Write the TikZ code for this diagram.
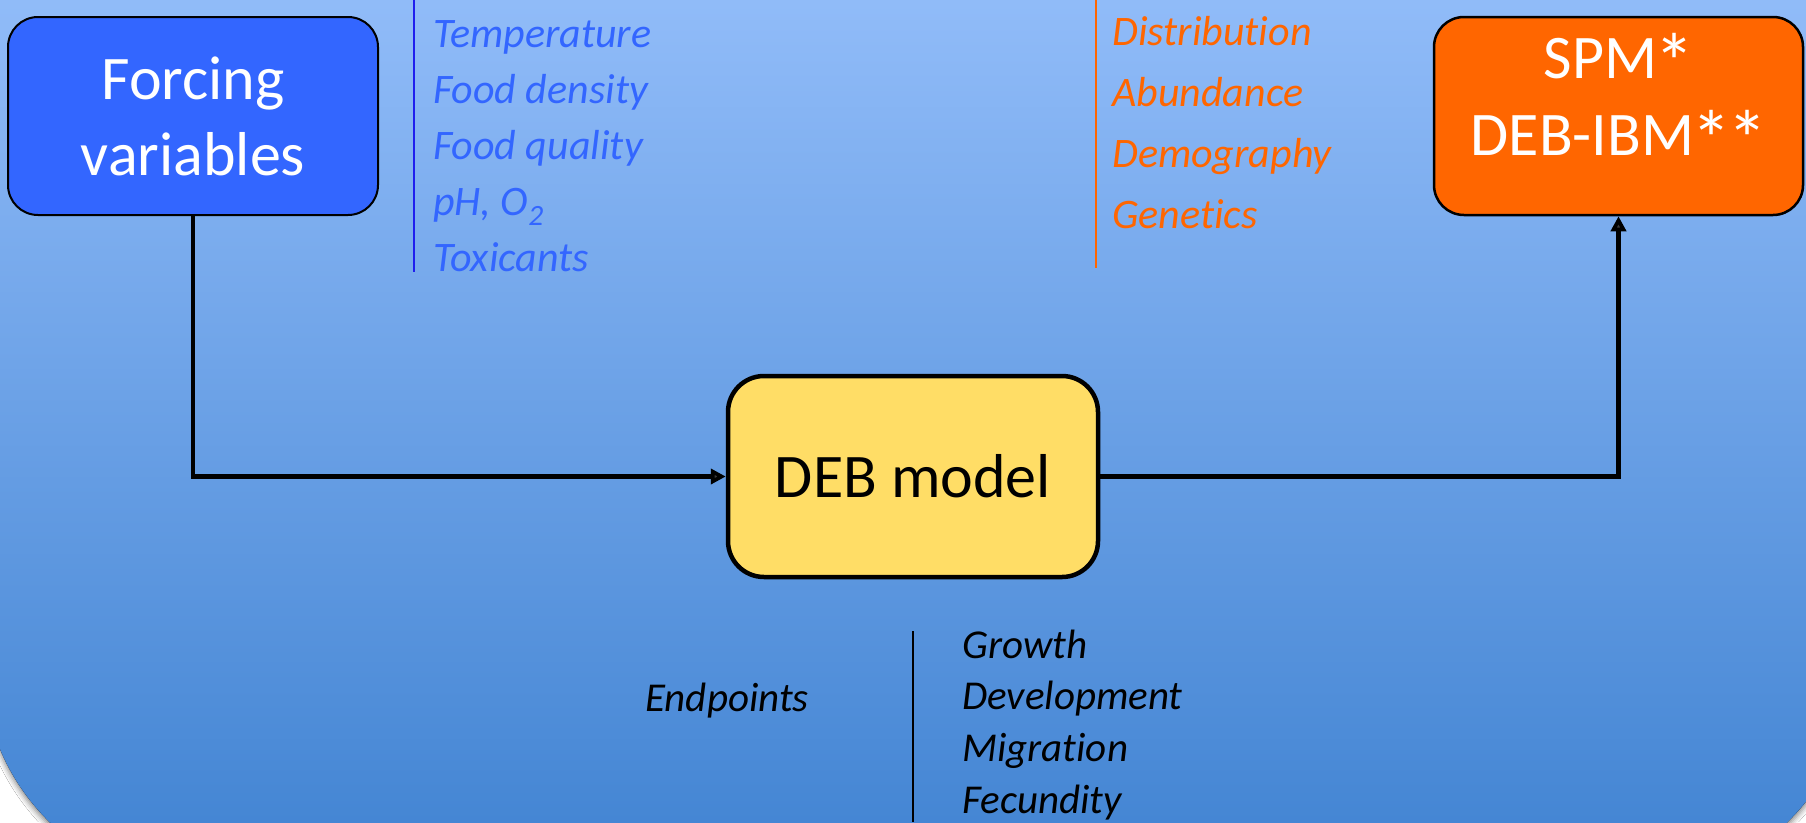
\documentclass[tikz,border=0pt]{standalone}
\usepackage{fontspec}
\setmainfont{Carlito}[RawFeature={-liga;-clig;-calt;-dlig}]
\usetikzlibrary{arrows.meta,shadows.blur}

\definecolor{bgtop}{RGB}{148,190,250}
\definecolor{bgbottom}{RGB}{63,130,209}
\definecolor{forcingblue}{HTML}{3366FF}
\definecolor{rulerblue}{HTML}{1F1FEE}
\definecolor{debyellow}{HTML}{FFDD66}
\definecolor{poporange}{HTML}{FF6600}

% a larger asterisk sitting at cap height for the box labels
\newcommand{\bigast}{\kern-3pt\raisebox{-12pt}{\scalebox{1.3}{*}}\kern-1pt}

\begin{document}
\begin{tikzpicture}[x=1pt,y=1pt,
  box/.style={draw=black, inner sep=0pt, align=center},
  flow/.style={line width=4.5pt, -{Triangle[length=15pt,width=15pt]}},
  listitem/.style={anchor=base west, inner sep=0pt, font=\itshape\fontsize{#1}{#1}\selectfont},
  rule/.style={line width=2pt}
]
\useasboundingbox (0,0) rectangle (1806,-822);
\clip (0,0) rectangle (1806,-822);
\fill[white] (0,0) rectangle (1806,-822);

% slide panel with soft shadow under its rounded lower corners
\fill[top color=bgtop, bottom color=bgbottom,
      blur shadow={shadow xshift=0pt, shadow yshift=-4pt, shadow blur radius=5pt, shadow opacity=45}]
  (-17,40) -- (-17,-664) arc[start angle=180, end angle=270, radius=221]
  -- (1633,-885) arc[start angle=270, end angle=360, radius=221]
  -- (1854,40) -- cycle;

% main boxes
\node[box, fill=forcingblue, line width=2pt, rounded corners=30pt,
      minimum width=370pt, minimum height=198pt, text=white,
      font=\fontsize{62}{76}\selectfont] (forcing) at (193,-116) {Forcing\\variables};
\node[box, fill=debyellow, line width=4.5pt, rounded corners=36pt,
      minimum width=370pt, minimum height=201pt,
      font=\fontsize{62}{76}\selectfont] (deb) at (913,-476.5) {DEB model};
\node[box, fill=poporange, line width=2.5pt, rounded corners=30pt,
      minimum width=369pt, minimum height=198pt] (spm) at (1618.5,-116) {};
\node[anchor=north, inner sep=0pt, align=center, text=white,
      font=\fontsize{62}{77}\selectfont] (spmtxt) at (1618.5,-33) {SPM\bigast\\DEB-IBM\bigast\bigast};

% connectors
\draw[flow] (forcing.south) |- (deb.west);
\draw[flow] (deb.east) -| (spm.south);

% forcing variables list
\draw[rule, rulerblue] (414,0) -- (414,-272);
\foreach \t [count=\i] in {Temperature, Food density, Food quality, {pH, O\textsubscript{2}}, Toxicants}
  \node[listitem=42, text=forcingblue] (fv\i) at (433,{-47-56*(\i-1)}) {\t};

% population-level outputs list
\draw[rule, poporange] (1096,0) -- (1096,-268);
\foreach \t [count=\i] in {Distribution, Abundance, Demography, Genetics}
  \node[listitem=42, text=poporange] (po\i) at (1112,{-45-61.3*(\i-1)}) {\t};

% endpoints
\node[listitem=41] (endpoints) at (645,-711) {Endpoints};
\draw[rule, black] (913,-631) -- (913,-822);
\foreach \t [count=\i] in {Growth, Development, Migration, Fecundity}
  \node[listitem=41] (ep\i) at (962,{-658-51.7*(\i-1)}) {\t};
\end{tikzpicture}
\end{document}
